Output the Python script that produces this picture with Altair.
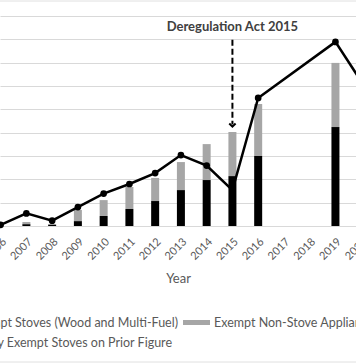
import altair as alt
import pandas as pd

# ---- data (units: one gridline = 10) ----
line_years = [2006, 2007, 2008, 2009, 2010, 2011, 2012, 2013, 2014, 2015, 2016, 2019, 2020]
line_vals = [0.5, 5.4, 2.3, 8.1, 13.9, 18.0, 22.7, 30.4, 25.9, 15.4, 54.9, 78.9, 62.0]

bar_years = [2007, 2008, 2009, 2010, 2011, 2012, 2013, 2014, 2015, 2016, 2019]
stoves = [0.8, 0.6, 2.1, 4.3, 7.3, 10.7, 15.4, 19.7, 21.4, 30.0, 42.4]
nonstove = [0.9, 0.0, 4.8, 6.8, 9.4, 9.9, 12.0, 15.4, 18.9, 22.3, 27.5]

series = ["Exempt Stoves (Wood and Multi-Fuel)", "Exempt Non-Stove Appliances"]
line_name = "Previously Exempt Stoves on Prior Figure"
tick_years = list(range(2006, 2021))

annot_year = [2015]
annot_text = ["Deregulation Act 2015"]
annot_text_y = [85.3]
annot_arrow_top = [79.8]
annot_arrow_bottom = [43.5]
annot_arrow_tip = [42.6]

FONT = "Lato"
GRAY_TXT = "#595959"

rows = []
for i, yr in enumerate(bar_years):
    rows.append({"Year": yr, "Series": series[0], "Value": stoves[i], "ord": 0})
    rows.append({"Year": yr, "Series": series[1], "Value": nonstove[i], "ord": 1})
bars_df = pd.DataFrame(rows)
line_df = pd.DataFrame({"Year": line_years, "Value": line_vals})
annot_df = pd.DataFrame({"Year": annot_year, "text": annot_text, "ty": annot_text_y,
                         "a1": annot_arrow_top, "a2": annot_arrow_bottom, "tip": annot_arrow_tip})
ticks_df = pd.DataFrame({"Year": tick_years, "lab": [str(t) for t in tick_years]})

xscale = alt.Scale(domain=[2006.17, 2019.604], nice=False, zero=False)
yscale = alt.Scale(domain=[0, 96.86], nice=False)

x_axis = alt.Axis(values=tick_years, labels=False, grid=False, domain=False, ticks=False,
                  title="Year", titleColor=GRAY_TXT, titleFontSize=13,
                  titleFont=FONT, titleFontWeight="normal", titlePadding=46)
y_axis = alt.Axis(values=list(range(0, 100, 10)), labels=False, ticks=False, domain=False,
                  title=None, grid=True, gridColor="#d9d9d9", gridWidth=1)


def X(field):
    return alt.X(field, type="quantitative", scale=xscale, axis=x_axis, title="Year")


def Y(field, **kw):
    return alt.Y(field, type="quantitative", scale=yscale, axis=y_axis, title=None, **kw)


bars = alt.Chart(bars_df).mark_bar(size=8).encode(
    x=X("Year"),
    y=Y("Value", stack="zero"),
    color=alt.Color("Series:N", scale=alt.Scale(domain=series, range=["#000000", "#a6a6a6"]), legend=None),
    order=alt.Order("ord:Q"),
)

line = alt.Chart(line_df).mark_line(color="#000000", strokeWidth=2.5).encode(x=X("Year"), y=Y("Value"))
points = alt.Chart(line_df).mark_point(filled=True, color="#000000", size=45, opacity=1).encode(
    x=X("Year"), y=Y("Value"))

# rotated year labels
tick_labels = alt.Chart(ticks_df).mark_text(
    font=FONT, fontSize=11, color=GRAY_TXT, angle=315, align="right", baseline="top"
).encode(x=X("Year"), y=alt.value(236), text="lab:N")

annot_txt = alt.Chart(annot_df).mark_text(font=FONT, fontSize=13, fontWeight="bold",
                                          color="#404040", align="center", baseline="middle").encode(
    x=X("Year"), y=Y("ty"), text="text:N")
annot_rule = alt.Chart(annot_df).mark_rule(color="#000000", strokeWidth=2, strokeDash=[6, 3]).encode(
    x=X("Year"), y=Y("a1"), y2="a2:Q")
annot_head = alt.Chart(annot_df).mark_point(shape="M-1,-1L0,0L1,-1", filled=False, color="#000000",
                                            strokeWidth=2, size=40, opacity=1).encode(
    x=X("Year"), y=Y("tip"))

# manual legend (cropped like the reference)
leg_a = alt.Chart(pd.DataFrame({"a": [0]})).mark_text(
    text=series[0], font=FONT, fontSize=12.5, color=GRAY_TXT, align="right", baseline="middle"
).encode(x=alt.value(178), y=alt.value(323))
leg_b = alt.Chart(pd.DataFrame({"a": [0]})).mark_text(
    text=series[1], font=FONT, fontSize=12.5, color=GRAY_TXT, align="left", baseline="middle"
).encode(x=alt.value(214), y=alt.value(323))
leg_c = alt.Chart(pd.DataFrame({"a": [0]})).mark_text(
    text=line_name, font=FONT, fontSize=12.5, color=GRAY_TXT, align="right", baseline="middle"
).encode(x=alt.value(172), y=alt.value(343))
swatch = alt.Chart(pd.DataFrame({"a": [0]})).mark_rect(color="#a6a6a6").encode(
    x=alt.value(183), x2=alt.value(210), y=alt.value(320), y2=alt.value(325))
frame_top = alt.Chart(pd.DataFrame({"a": [0]})).mark_rule(color="#e0e0e0", strokeWidth=1).encode(
    x=alt.value(0), x2=alt.value(356), y=alt.value(1))
frame_bot = alt.Chart(pd.DataFrame({"a": [0]})).mark_rule(color="#e0e0e0", strokeWidth=1).encode(
    x=alt.value(0), x2=alt.value(356), y=alt.value(362))

chart = alt.layer(bars, line, points, tick_labels, annot_txt, annot_rule, annot_head,
                  leg_a, leg_b, leg_c, swatch, frame_top, frame_bot).properties(
    width=356, height=226,
    autosize=alt.AutoSizeParams(type="none"),
    padding={"left": 0, "top": 0, "right": 0, "bottom": 138},
    background="white",
).configure_view(stroke=None)

chart.save("out.html", embed_options={"renderer": "svg", "actions": False})
